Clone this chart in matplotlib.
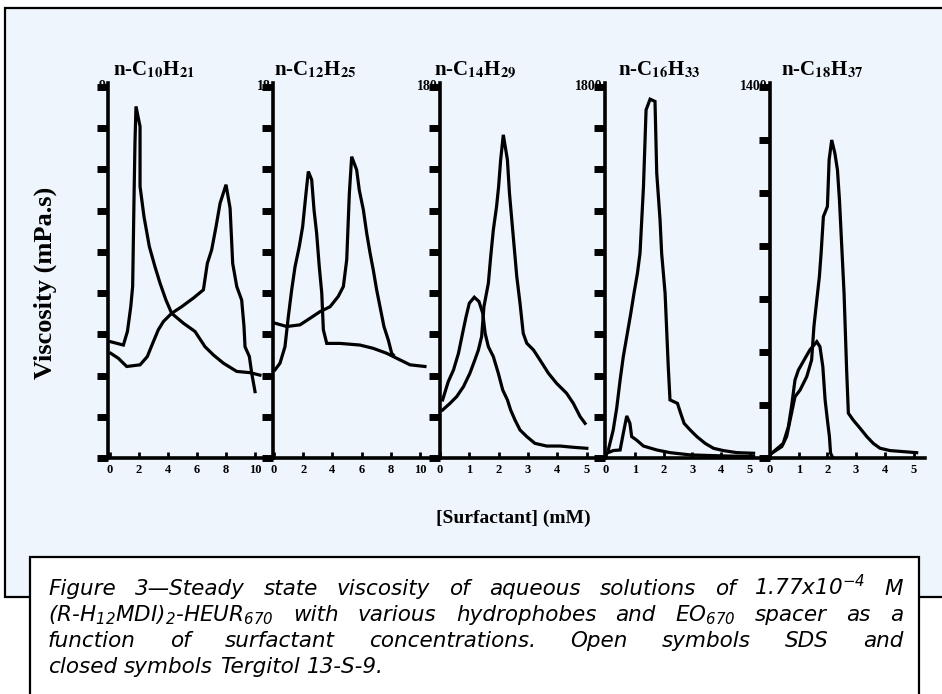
import matplotlib
matplotlib.use('Agg')
import matplotlib.pyplot as plt
from matplotlib.patches import Rectangle

plt.rcParams['mathtext.fontset'] = 'custom'
plt.rcParams['mathtext.rm'] = 'DejaVu Sans:italic'
plt.rcParams['mathtext.it'] = 'DejaVu Sans:italic'
plt.rcParams['mathtext.bf'] = 'DejaVu Sans:bold'

# ---------------- data ----------------
titles = [r'n-C$_{\mathbf{10}}$H$_{\mathbf{21}}$', r'n-C$_{\mathbf{12}}$H$_{\mathbf{25}}$',
          r'n-C$_{\mathbf{14}}$H$_{\mathbf{29}}$', r'n-C$_{\mathbf{16}}$H$_{\mathbf{33}}$',
          r'n-C$_{\mathbf{18}}$H$_{\mathbf{37}}$']
y_max = [9, 18, 180, 1800, 1400]
y_step = [1, 2, 20, 200, 200]
x_tick_vals = [[0, 2, 4, 6, 8, 10], [0, 2, 4, 6, 8, 10], [0, 1, 2, 3, 4, 5],
               [0, 1, 2, 3, 4, 5], [0, 1, 2, 3, 4, 5]]
x_lims = [(-0.14, 11.24), (-0.07, 11.37), (0.0, 5.63), (-0.035, 5.69), (0.0, 5.40)]

# C10 panel
c10_a_x = [0.05, 0.92, 1.20, 1.43, 1.56, 1.66, 1.72, 1.79, 2.07, 2.07, 2.34, 2.71, 3.10, 3.45,
           3.86, 4.25, 5.06, 5.86, 6.55, 7.13, 7.82, 8.74, 9.66, 10.34]
c10_a_y = [2.82, 2.74, 3.07, 3.67, 4.16, 6.42, 7.64, 8.53, 8.04, 6.59, 5.86, 5.13, 4.64, 4.24,
           3.83, 3.51, 3.27, 3.07, 2.70, 2.50, 2.30, 2.10, 2.07, 2.01]
c10_b_x = [0.05, 0.57, 1.15, 2.07, 2.57, 2.94, 3.33, 3.68, 4.25, 4.94, 5.75, 6.44, 6.71, 7.01,
           7.31, 7.59, 8.00, 8.28, 8.46, 8.74, 9.08, 9.24, 9.31, 9.61, 9.77, 10.0]
c10_b_y = [2.54, 2.42, 2.22, 2.26, 2.46, 2.78, 3.11, 3.31, 3.51, 3.67, 3.88, 4.08, 4.72, 5.05,
           5.61, 6.18, 6.63, 6.06, 4.72, 4.16, 3.83, 3.19, 2.70, 2.46, 2.06, 1.61]

# C12 panel
c12_a_x = [0.07, 0.41, 0.75, 0.98, 1.21, 1.44, 1.73, 1.96, 2.19, 2.35, 2.58, 2.74, 2.92, 3.10,
           3.27, 3.38, 3.61, 4.52, 5.89, 6.80, 7.72, 8.63, 9.32, 10.34]
c12_a_y = [4.28, 4.60, 5.40, 6.86, 8.16, 9.28, 10.26, 11.22, 12.84, 13.90, 13.50, 12.04, 10.90,
           9.28, 8.00, 6.22, 5.56, 5.56, 5.48, 5.32, 5.08, 4.76, 4.52, 4.44]
c12_b_x = [0.07, 0.87, 1.78, 2.47, 3.15, 3.84, 4.40, 4.75, 4.98, 5.16, 5.32, 5.66, 5.84, 6.12,
           6.35, 6.58, 6.80, 7.03, 7.26, 7.53, 7.83, 8.06, 8.17]
c12_b_y = [6.54, 6.38, 6.46, 6.78, 7.10, 7.34, 7.84, 8.32, 9.62, 12.84, 14.62, 13.98, 13.00,
           12.04, 10.90, 9.94, 9.12, 8.16, 7.34, 6.38, 5.72, 5.08, 5.00]

# C14 panel
c14_a_x = [0.09, 0.34, 0.57, 0.80, 1.02, 1.19, 1.31, 1.42, 1.50, 1.65, 1.73, 1.82, 1.93, 2.00,
           2.07, 2.16, 2.30, 2.37, 2.50, 2.62, 2.73, 2.84, 2.96, 3.19, 3.41, 3.70, 3.98, 4.32,
           4.55, 4.78, 4.95]
c14_a_y = [23.3, 26.5, 29.8, 34.6, 41.1, 47.6, 52.4, 58.9, 73.5, 84.8, 97.7, 110.7, 122.0,
           131.7, 144.7, 156.8, 144.7, 128.5, 107.4, 88.0, 75.1, 60.5, 55.7, 52.4, 47.6, 41.1,
           36.2, 31.4, 26.5, 20.1, 16.8]
c14_b_x = [0.09, 0.28, 0.46, 0.63, 0.77, 0.89, 1.00, 1.17, 1.33, 1.46, 1.54, 1.65, 1.82, 1.99,
           2.14, 2.30, 2.41, 2.56, 2.73, 2.96, 3.24, 3.64, 4.10, 4.55, 5.01]
c14_b_y = [28.2, 37.0, 42.7, 50.8, 60.5, 68.6, 75.1, 78.0, 75.9, 70.2, 60.5, 54.0, 49.2, 41.1,
           33.0, 28.2, 23.3, 18.4, 13.6, 10.4, 7.1, 5.8, 5.8, 5.2, 4.7]

# C16 panel
c16_a_x = [0.08, 0.25, 0.37, 0.49, 0.60, 0.72, 0.86, 0.97, 1.09, 1.18, 1.24, 1.30, 1.39, 1.53,
           1.70, 1.76, 1.875, 1.93, 2.05, 2.16, 2.22, 2.48, 2.59, 2.71, 2.92, 3.15, 3.44, 3.73,
           4.07, 4.54, 5.12]
c16_a_y = [39, 136, 241, 379, 492, 589, 702, 799, 896, 994, 1155, 1317, 1689, 1741, 1730, 1382,
           1155, 994, 799, 443, 282, 265, 217, 168, 136, 104, 71, 47, 36, 26, 23]
c16_b_x = [0.02, 0.25, 0.49, 0.60, 0.72, 0.83, 0.89, 1.06, 1.30, 1.76, 2.22, 2.92, 4.07, 5.12]
c16_b_y = [23, 36, 39, 120, 204, 168, 104, 87, 58, 39, 26, 15, 10, 7]

# C18 panel
c18_a_x = [0.06, 0.41, 0.58, 0.75, 0.87, 1.05, 1.28, 1.45, 1.53, 1.63, 1.72, 1.78, 1.86, 2.00,
           2.06, 2.15, 2.26, 2.35, 2.42, 2.50, 2.58, 2.67, 2.73, 2.90, 3.14, 3.37, 3.60, 3.83,
           4.18, 4.65, 5.11]
c18_a_y = [18, 43, 81, 169, 231, 257, 307, 370, 496, 596, 684, 772, 911, 949, 1125, 1200, 1150,
           1087, 974, 798, 622, 332, 169, 143, 112, 81, 55, 37, 28, 24, 20]
c18_b_x = [0.06, 0.46, 0.64, 0.75, 0.87, 0.99, 1.22, 1.39, 1.63, 1.74, 1.84, 1.92, 2.00, 2.07,
           2.11, 2.18]
c18_b_y = [18, 55, 118, 194, 294, 332, 376, 408, 439, 420, 345, 219, 143, 81, 18, 3]

curves = [
    [(c10_a_x, c10_a_y), (c10_b_x, c10_b_y)],
    [(c12_a_x, c12_a_y), (c12_b_x, c12_b_y)],
    [(c14_a_x, c14_a_y), (c14_b_x, c14_b_y)],
    [(c16_a_x, c16_a_y), (c16_b_x, c16_b_y)],
    [(c18_a_x, c18_a_y), (c18_b_x, c18_b_y)],
]

caption_lines = [
    "Figure 3\u2014Steady state viscosity of aqueous solutions of 1.77x10$^{-4}$ M",
    "(R-H$_{12}$MDI)$_{2}$-HEUR$_{670}$ with various hydrophobes and EO$_{670}$ spacer as a",
    "function of surfactant concentrations. Open symbols SDS and",
    "closed symbols Tergitol 13-S-9.",
]
x_label = '[Surfactant] (mM)'
y_label = 'Viscosity (mPa.s)'

# ---------------- layout ----------------
W, H = 942, 694
fig = plt.figure(figsize=(W / 100, H / 100), dpi=100)
fig.patch.set_facecolor('white')

def fx(px):
    return px / W

def fy(py):
    return 1 - py / H

# outer light-blue frame
fig.patches.append(Rectangle((fx(5), fy(597)), fx(960) - fx(5), fy(8) - fy(597),
                             transform=fig.transFigure, facecolor='#eef5fc',
                             edgecolor='black', linewidth=1.6, zorder=-5))

panel_edges = [(108, 273), (273, 440), (440, 605), (605, 770), (770, 925)]
title_cx = [154, 315, 475, 659, 822]
top_px, bot_px = 87, 458
serif = 'Liberation Serif'

for i, (l, r) in enumerate(panel_edges):
    ax = fig.add_axes([fx(l), fy(bot_px), (r - l) / W, (bot_px - top_px) / H])
    ax.set_zorder(1)
    ax.set_facecolor('none')
    ax.patch.set_alpha(0)
    for xs, ys in curves[i]:
        ax.plot(xs, ys, color='black', linewidth=2.3, solid_joinstyle='miter', clip_on=False)
    ax.set_xlim(*x_lims[i])
    ax.set_ylim(0, y_max[i])
    for s in ['top', 'right']:
        ax.spines[s].set_visible(False)
    ax.spines['left'].set_linewidth(2.6)
    ax.spines['bottom'].set_linewidth(2.6)
    ax.spines['left'].set_bounds(0, y_max[i] * 1.012)
    yt = [k * y_step[i] for k in range(int(round(y_max[i] / y_step[i])) + 1)]
    ax.set_yticks(yt)
    ax.set_yticklabels([])
    ax.tick_params(axis='y', direction='out', length=8, width=5, color='black')
    ax.set_xticks(x_tick_vals[i])
    ax.set_xticklabels([str(v) for v in x_tick_vals[i]], fontfamily=serif,
                       fontweight='bold', fontsize=9)
    ax.tick_params(axis='x', direction='in', length=4, width=2, pad=4, color='black')
    ax.text(-0.015, y_max[i], str(y_max[i]), transform=ax.get_yaxis_transform(),
            ha='right', va='center', fontfamily=serif, fontweight='bold', fontsize=10)
    fig.text(fx(title_cx[i]), fy(70), titles[i], ha='center', va='center',
             fontfamily=serif, fontweight='bold', fontsize=15, math_fontfamily='stix')

fig.text(fx(45), fy(283), y_label, rotation=90, ha='center', va='center',
         fontfamily=serif, fontweight='bold', fontsize=19)
fig.text(fx(513), fy(518), x_label, ha='center', va='center',
         fontfamily=serif, fontweight='bold', fontsize=14)

# caption box
fig.patches.append(Rectangle((fx(30), fy(710)), fx(919) - fx(30), fy(557) - fy(710),
                             transform=fig.transFigure, facecolor='white',
                             edgecolor='black', linewidth=1.6, zorder=5))

cap_fs = 15.5
renderer = fig.canvas.get_renderer()

def place_line(text, x0, x1, yb, justify):
    words = text.split(' ')
    objs = [fig.text(0, fy(yb), w, fontsize=cap_fs, style='italic', fontfamily='DejaVu Sans',
                     ha='left', va='baseline', math_fontfamily='custom', zorder=6)
            for w in words]
    widths = [o.get_window_extent(renderer).width for o in objs]
    if justify and len(words) > 1:
        gap = (x1 - x0 - sum(widths)) / (len(words) - 1)
    else:
        gap = cap_fs * 0.32 * 100 / 72
    x = x0
    for o, w in zip(objs, widths):
        o.set_x(fx(x))
        x += w + gap

bases = [595, 621, 647, 673]
for k, line in enumerate(caption_lines):
    place_line(line, 48, 903, bases[k], justify=(k < 3))

fig.savefig('out.png', dpi=100, facecolor='white')
